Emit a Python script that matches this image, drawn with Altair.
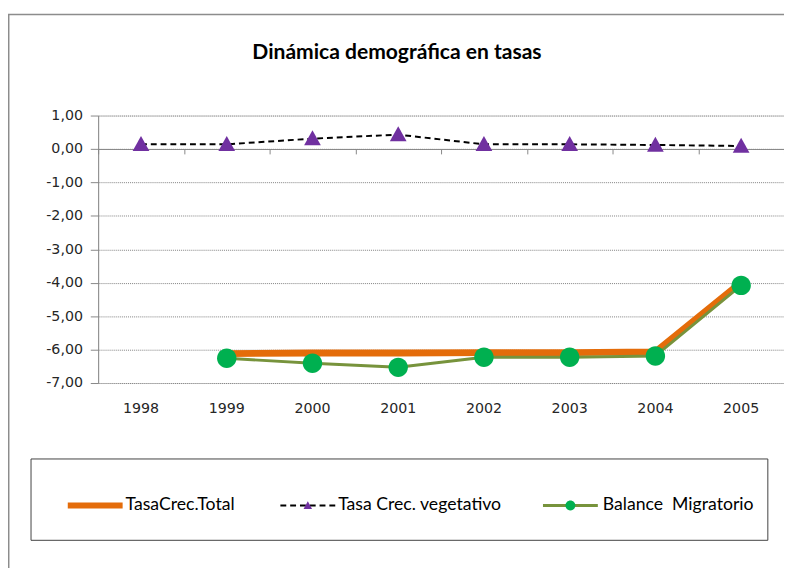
import altair as alt
import pandas as pd

# ---------------- data ----------------
years = ["1998", "1999", "2000", "2001", "2002", "2003", "2004", "2005"]
series_names = ["TasaCrec.Total", "Tasa Crec. vegetativo", "Balance\u00a0 Migratorio"]
total = [None, -6.12, -6.10, -6.10, -6.09, -6.09, -6.07, -3.99]
vegetativo = [0.14, 0.14, 0.31, 0.43, 0.14, 0.14, 0.12, 0.09]
migratorio = [None, -6.26, -6.41, -6.53, -6.23, -6.23, -6.19, -4.08]
chart_title = "Dinámica demográfica en tasas"
y_ticks = [-7, -6, -5, -4, -3, -2, -1, 0, 1]

# ---------------- styles ----------------
ORANGE, BLACK, OLIVE = "#E46C0A", "#000000", "#77933C"
PURPLE, GREEN = "#7030A0", "#00B050"
TRI = "M0,-0.155 L0.155,0.125 L-0.155,0.125 Z"
CIRC = "M-0.18,0 A0.18,0.18 0 1,0 0.18,0 A0.18,0.18 0 1,0 -0.18,0 Z"
AX_FONT = "DejaVu Sans"
LEG_FONT = "Lato"

rows = []
for name, vals in zip(series_names, [total, vegetativo, migratorio]):
    for yr, v in zip(years, vals):
        if v is not None:
            rows.append({"year": yr, "serie": name, "marker": name + "\u200b", "valor": v})
df = pd.DataFrame(rows)
deco = pd.DataFrame({"titulo": [chart_title]})
n_tot, n_veg, n_mig = series_names
m_veg, m_mig = n_veg + "\u200b", n_mig + "\u200b"

W, H = 700, 273
x_scale = alt.Scale(type="band", domain=years, paddingInner=0, paddingOuter=0)
y_scale = alt.Scale(domain=[-7, 1], nice=False, zero=False)

num_expr = "replace(replace(format(datum.value, '.2f'), '.', ','), '\u2212', '-')"
y_axis = alt.Axis(values=y_ticks, labelExpr=num_expr, title=None, grid=True,
                  gridColor="#808080", gridDash=[1, 1], gridWidth=1,
                  domainColor="#868686", tickColor="#868686", tickSize=8,
                  labelPadding=8, labelFont=AX_FONT, labelFontSize=14.5,
                  labelColor="#262626")
x_axis_labels = alt.Axis(title=None, domain=False, ticks=False, tickSize=0, grid=False,
                         labelPadding=19, labelFont=AX_FONT, labelFontSize=14.5,
                         labelColor="#262626", labelAngle=0, orient="bottom")
x_axis_line = alt.Axis(title=None, labels=False, ticks=True, tickBand="extent",
                       tickSize=5, tickColor="#868686", domainColor="#868686",
                       grid=False, orient="bottom", offset=-(H - H / 8.0))


def leg(x, y, sw, lo, labels=True, **kw):
    d = dict(title=None, orient="none", legendX=x, legendY=y, direction="horizontal",
             symbolSize=3136, symbolStrokeWidth=sw, labelFont=LEG_FONT, labelFontSize=18,
             labelOffset=lo, labelLimit=400, padding=0, labelColor="#000000")
    if not labels:
        d["labelExpr"] = "''"
    d.update(kw)
    return alt.Legend(**d)


L_tot = leg(-34, 367, 6, 0)
L_veg = leg(185, 369, 2, 2)
L_veg_m = leg(185, 369, 2, 2, labels=False, symbolStrokeColor="transparent", zindex=1)
L_mig = leg(452.5, 368.5, 3, 3.5)
L_mig_m = leg(452.5, 368.5, 3, 3.5, labels=False, symbolStrokeColor="transparent",
              symbolType=CIRC, zindex=1)


def xy(axis):
    return dict(x=alt.X("year:N", scale=x_scale, axis=axis),
                y=alt.Y("valor:Q", scale=y_scale, axis=y_axis))


orange = alt.Chart(df).transform_filter(alt.datum.serie == n_tot).mark_line(
    strokeJoin="round", strokeCap="round"
).encode(
    **xy(x_axis_line),
    stroke=alt.Stroke("serie:N", scale=alt.Scale(domain=[n_tot], range=[ORANGE]), legend=L_tot),
    strokeWidth=alt.value(7),
)
migr = alt.Chart(df).transform_filter(alt.datum.serie == n_mig).mark_line(
    color=OLIVE, strokeJoin="round"
).encode(
    **xy(None),
    strokeWidth=alt.StrokeWidth("serie:N", scale=alt.Scale(type="point", domain=[n_mig], range=[3, 3]),
                                legend=L_mig),
)
veg = alt.Chart(df).transform_filter(alt.datum.serie == n_veg).mark_line(
    color=BLACK, strokeJoin="round"
).encode(
    **xy(x_axis_labels),
    strokeDash=alt.StrokeDash("serie:N", scale=alt.Scale(domain=[n_veg], range=[[6, 4]]),
                              legend=L_veg),
    strokeWidth=alt.value(2),
)
mig_pts = alt.Chart(df).transform_filter(alt.datum.serie == n_mig).mark_point(
    filled=True, opacity=1, shape=CIRC
).encode(
    **xy(None),
    fill=alt.Fill("marker:N", scale=alt.Scale(domain=[m_mig], range=[GREEN]), legend=L_mig_m),
    size=alt.value(12100),
)
veg_pts = alt.Chart(df).transform_filter(alt.datum.serie == n_veg).mark_point(
    filled=True, opacity=1, color=PURPLE
).encode(
    **xy(None),
    shape=alt.Shape("marker:N", scale=alt.Scale(domain=[m_veg], range=[TRI]), legend=L_veg_m),
    size=alt.value(12100),
)

frame = alt.Chart(deco).mark_rect(fill="transparent", stroke="#8C8C8C", strokeWidth=1.5).encode(
    x=alt.value(-91.25), y=alt.value(-103.25), x2=alt.value(W + 60), y2=alt.value(H + 250)
)
legend_box = alt.Chart(deco).mark_rect(fill="transparent", stroke="#404040", strokeWidth=1).encode(
    x=alt.value(-68.5), y=alt.value(350.5), x2=alt.value(683.5), y2=alt.value(433.5)
)
title = alt.Chart(deco).mark_text(font="Lato", fontSize=21.5, fontWeight="bold",
                                  color="#000000", align="center", baseline="middle").encode(
    text="titulo:N", x=alt.value(305), y=alt.value(-64)
)

chart = alt.layer(frame, legend_box, orange, migr, veg, mig_pts, veg_pts, title).resolve_axis(
    x="independent"
).properties(
    width=W, height=H,
    padding={"left": 92, "top": 104, "right": 0, "bottom": 183},
    autosize="none",
).configure_view(stroke=None).configure(background="white")

chart.save("out.html", embed_options={"renderer": "svg", "actions": False})
